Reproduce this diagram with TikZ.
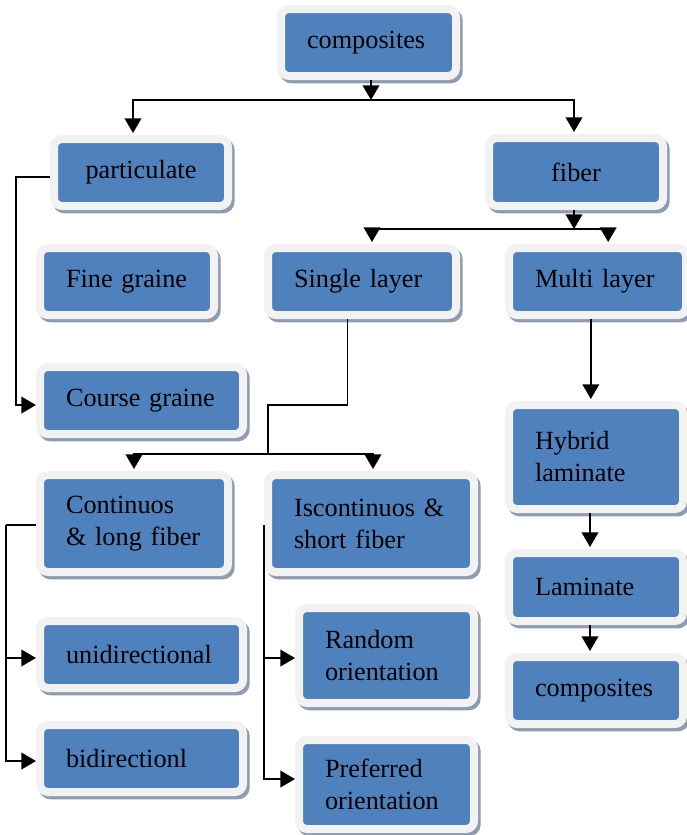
\documentclass[tikz,border=0pt]{standalone}
\usepackage{fontspec}
\setmainfont{Liberation Serif}
\usetikzlibrary{shadows,arrows.meta,positioning}
\definecolor{boxblue}{HTML}{4F81BD}
\definecolor{framegray}{HTML}{F2F2F2}
\definecolor{shadegray}{HTML}{8F9BAE}

\begin{document}
\begin{tikzpicture}[
    x=0.75pt, y=-0.75pt,
    box/.style 2 args={rectangle, rounded corners=6pt,
        fill=boxblue, draw=framegray, line width=6pt,
        drop shadow={shadow xshift=2pt, shadow yshift=-2.5pt,
                     fill=shadegray, draw=shadegray, line width=6pt, opacity=1},
        text width=#1-39pt, inner xsep=19.5pt, inner ysep=0pt,
        minimum height=#2, align=left},
    line/.style={draw=black, line width=1.2pt},
    arr/.style={line, -{Triangle[length=11pt,width=12.5pt]}},
    tobox/.style={shorten >=1.5pt}
]

    \tikzstyle{every node}=[font=\fontsize{19.7}{24}\selectfont];

    \useasboundingbox (0,0) rectangle (686,835);

    % boxes
    \node[box={131.25pt}{50.25pt}] (comp) at (368.5,42.5) {composites};
    \node[box={130.5pt}{50.25pt}, align=center] (part) at (141,172.5) {particulate};
    \node[box={130.5pt}{51pt}, align=center] (fiber) at (576,172) {fiber};
    \node[box={130.5pt}{50.25pt}] (fine) at (127,281.5) {Fine graine};
    \node[box={141pt}{50.25pt}] (single) at (362,281.5) {Single layer};
    \node[box={132.75pt}{50.25pt}] (multi) at (597.5,281.5) {Multi layer};
    \node[box={152.25pt}{50.25pt}] (course) at (141.5,400.5) {Course graine};
    \node[box={130.5pt}{78pt}] (hybrid) at (596,457) {Hybrid\\laminate};
    \node[box={141pt}{72.75pt}] (cont) at (134,523.5) {Continuos\\\& long fiber};
    \node[box={154.5pt}{72.75pt}] (iscont) at (371,523.5) {Iscontinuos \&\\short fiber};
    \node[box={130.5pt}{51pt}] (lam) at (596,587) {Laminate};
    \node[box={130.5pt}{50.25pt}] (comp2) at (596,690.5) {composites};
    \node[box={152.25pt}{50.25pt}] (uni) at (141.5,654.5) {unidirectional};
    \node[box={131.25pt}{71.25pt}] (random) at (386.5,655.5) {Random\\orientation};
    \node[box={152.25pt}{50.25pt}] (bi) at (141.5,758.5) {bidirectionl};
    \node[box={131.25pt}{66.75pt}] (pref) at (386.5,784.5) {Preferred\\orientation};

    % top split
    \coordinate (b1) at (371,100);
    \draw[arr] (comp.south -| b1) -- (b1);
    \draw[arr, tobox] (b1) -| ([xshift=-6pt]part.north);
    \draw[arr, tobox] (b1) -| ([xshift=-1.5pt]fiber.north);

    \draw[arr] ([yshift=-3.4pt]part.west) -- ++(-34,0) |- ([yshift=-3.4pt]course.west);

    % fiber split
    \coordinate (b2) at (574,229);
    \draw[arr] (fiber.south -| b2) -- (b2);
    \draw[arr, tobox] (b2) -| ([xshift=7.5pt]single.north);
    \draw[arr, tobox] (b2) -| ([xshift=8pt]multi.north);

    % single layer
    \coordinate (s1) at (268,405);
    \coordinate (b3) at (268,454);
    \draw[line] ([xshift=-11pt]single.south) |- (s1) -- (b3);
    \draw[arr, tobox] (b3) -| (cont.north);
    \draw[arr, tobox] (b3) -| ([xshift=1.5pt]iscont.north);

    \coordinate (c1) at (6,525);
    \draw[line] (cont.west |- c1) -- (c1);
    \draw[arr] (c1) |- ([yshift=-2.6pt]uni.west);
    \draw[arr] (c1) |- ([yshift=-1.9pt]bi.west);

    \draw[arr] (iscont.west |- c1) |- ([yshift=-1.9pt]random.west);
    \draw[arr] (iscont.west |- c1) |- ([yshift=4.1pt]pref.west);

    % multi layer
    \draw[arr, tobox] ([xshift=-5pt]multi.south) -- ([xshift=-5pt]multi.south |- hybrid.north);
    \draw[arr, tobox] ([xshift=-4.5pt]hybrid.south) -- ([xshift=-4.5pt]lam.north);
    \draw[arr, tobox] ([xshift=-4.5pt]lam.south) -- ([xshift=-4.5pt]comp2.north);

\end{tikzpicture}
\end{document}
